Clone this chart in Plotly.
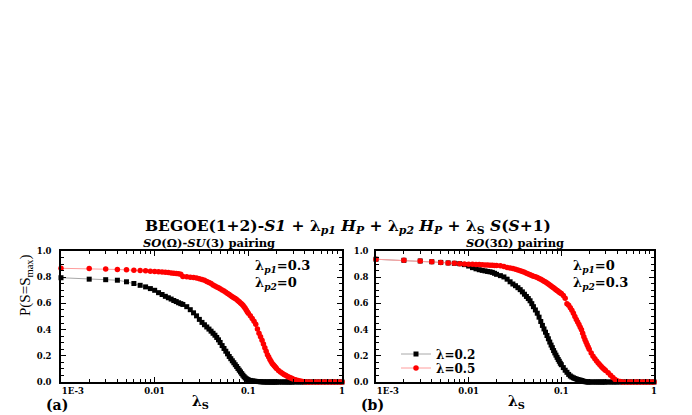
import plotly.graph_objects as go

# lambda_S values where the curves were read (shared by all four curves)
lam_s = [0.001, 0.002, 0.003, 0.004, 0.005, 0.006, 0.007, 0.008, 0.009,
         0.010, 0.011, 0.012, 0.013, 0.014, 0.015, 0.016, 0.017, 0.018, 0.019, 0.020,
         0.022, 0.024, 0.026, 0.028, 0.030, 0.032, 0.034, 0.036, 0.038, 0.040,
         0.042, 0.044, 0.046, 0.048, 0.050,
         0.0525, 0.055, 0.0575, 0.060, 0.0625, 0.065, 0.0675, 0.070, 0.0725, 0.075,
         0.0775, 0.080, 0.0825, 0.085, 0.0875, 0.090, 0.0925, 0.095, 0.0975, 0.100,
         0.105, 0.110, 0.115, 0.120, 0.125, 0.130, 0.135, 0.140, 0.145, 0.150,
         0.155, 0.160, 0.165, 0.170, 0.175, 0.180, 0.185, 0.190, 0.195, 0.200,
         0.21, 0.22, 0.23, 0.24, 0.25, 0.26, 0.27, 0.28, 0.29, 0.30,
         0.32, 0.34, 0.36, 0.38, 0.40, 0.43, 0.46, 0.50, 0.54, 0.58, 0.63, 0.68,
         0.74, 0.80, 0.86, 0.93, 1.0]

# (a) SO(Omega)-SU(3) pairing, lambda_p1=0.3, lambda_p2=0
a_lam02 = [0.796, 0.785, 0.781, 0.777, 0.765, 0.752, 0.738, 0.726, 0.713,
           0.700, 0.682, 0.668, 0.654, 0.643, 0.633, 0.622, 0.614, 0.605, 0.598, 0.592,
           0.575, 0.552, 0.528, 0.505, 0.478, 0.455, 0.437, 0.420, 0.404, 0.388,
           0.372, 0.357, 0.340, 0.322, 0.302,
           0.278, 0.256, 0.235, 0.215, 0.195, 0.178, 0.162, 0.147, 0.132, 0.118,
           0.103, 0.090, 0.077, 0.064, 0.052, 0.041, 0.032, 0.025, 0.020, 0.016,
           0.012, 0.009, 0.007, 0.005, 0.004, 0.003, 0.002, 0.001, 0.001, 0.0,
           0.0, 0.0, 0.0, 0.0, 0.0, 0.0, 0.0, 0.0, 0.0, 0.0,
           0.0, 0.0, 0.0, 0.0, 0.0, 0.0, 0.0, 0.0, 0.0, 0.0,
           0.0, 0.0, 0.0, 0.0, 0.0, 0.0, 0.0, 0.0, 0.0, 0.0, 0.0, 0.0,
           0.0, 0.0, 0.0, 0.0, 0.0]
a_lam05 = [0.868, 0.866, 0.862, 0.859, 0.856, 0.854, 0.852, 0.849, 0.846,
           0.843, 0.841, 0.839, 0.837, 0.835, 0.833, 0.831, 0.829, 0.826, 0.823, 0.806,
           0.803, 0.800, 0.797, 0.793, 0.789, 0.783, 0.776, 0.768, 0.760, 0.751,
           0.741, 0.733, 0.726, 0.719, 0.712,
           0.703, 0.695, 0.686, 0.676, 0.667, 0.659, 0.651, 0.644, 0.637, 0.630,
           0.621, 0.612, 0.604, 0.595, 0.586, 0.575, 0.563, 0.550, 0.537, 0.525,
           0.505, 0.485, 0.463, 0.440, 0.405, 0.372, 0.345, 0.318, 0.290, 0.262,
           0.235, 0.208, 0.190, 0.172, 0.156, 0.142, 0.131, 0.122, 0.112, 0.103,
           0.088, 0.076, 0.066, 0.058, 0.051, 0.044, 0.038, 0.033, 0.028, 0.023,
           0.017, 0.012, 0.007, 0.003, 0.001, 0.0, 0.0, 0.0, 0.0, 0.0, 0.0, 0.0,
           0.0, 0.0, 0.0, 0.0, 0.0]

# (b) SO(3 Omega) pairing, lambda_p1=0, lambda_p2=0.3
b_lam02 = [0.937, 0.929, 0.924, 0.918, 0.913, 0.909, 0.906, 0.903, 0.896,
           0.885, 0.873, 0.864, 0.857, 0.852, 0.848, 0.844, 0.841, 0.837, 0.830, 0.822,
           0.812, 0.802, 0.785, 0.765, 0.748, 0.735, 0.720, 0.705, 0.688, 0.670,
           0.653, 0.637, 0.620, 0.598, 0.575,
           0.550, 0.525, 0.495, 0.462, 0.432, 0.405, 0.380, 0.355, 0.330, 0.305,
           0.282, 0.262, 0.240, 0.222, 0.205, 0.188, 0.172, 0.158, 0.143, 0.132,
           0.110, 0.090, 0.074, 0.058, 0.046, 0.038, 0.032, 0.027, 0.023, 0.019,
           0.016, 0.014, 0.011, 0.008, 0.005, 0.003, 0.002, 0.001, 0.0, 0.0,
           0.0, 0.0, 0.0, 0.0, 0.0, 0.0, 0.0, 0.0, 0.0, 0.0,
           0.0, 0.0, 0.0, 0.0, 0.0, 0.0, 0.0, 0.0, 0.0, 0.0, 0.0, 0.0,
           0.0, 0.0, 0.0, 0.0, 0.0]
b_lam05 = [0.937, 0.929, 0.924, 0.918, 0.913, 0.909, 0.906, 0.903, 0.901,
           0.899, 0.898, 0.897, 0.896, 0.895, 0.894, 0.893, 0.892, 0.891, 0.890, 0.889,
           0.887, 0.881, 0.875, 0.870, 0.866, 0.861, 0.855, 0.849, 0.843, 0.837,
           0.831, 0.825, 0.819, 0.813, 0.808,
           0.803, 0.797, 0.791, 0.784, 0.777, 0.770, 0.763, 0.756, 0.748, 0.740,
           0.733, 0.726, 0.719, 0.712, 0.705, 0.698, 0.692, 0.686, 0.680, 0.675,
           0.660, 0.640, 0.598, 0.585, 0.567, 0.548, 0.525, 0.500, 0.478, 0.458,
           0.438, 0.418, 0.398, 0.372, 0.345, 0.322, 0.303, 0.285, 0.268, 0.250,
           0.222, 0.196, 0.178, 0.160, 0.145, 0.131, 0.118, 0.106, 0.097, 0.088,
           0.070, 0.052, 0.034, 0.020, 0.010, 0.003, 0.0, 0.0, 0.0, 0.0, 0.0, 0.0,
           0.0, 0.0, 0.0, 0.0, 0.0]

x_tickvals = [0.001, 0.01, 0.1, 1]
# leading figure spaces push "1E-3" to the right of its tick, as in the original
x_ticktext = ['\u2007\u2007\u2007\u20071E-3', '0.01', '0.1', '1']

BOLD = 'DejaVu Serif'
TIMES = 'Liberation Serif'
# the page body has an 8px margin, so the figure is drawn 8px in from the window corner
OFF = 8
W, H = 692 - OFF, 415 - OFF


def px(x, y):
    ''' window pixel position -> paper coords '''
    return (x - OFF) / W, 1 - (y - OFF) / H


fig = go.Figure()

styles = [
    ('λ=0.2', 'square', 'black', '#a8a8a8', 5, 'legend'),
    ('λ=0.5', 'circle', 'red', '#ff9c9c', 5.5, 'legend2'),
]
panels = [('x', 'y', [a_lam02, a_lam05], False),
          ('x2', 'y2', [b_lam02, b_lam05], True)]

for xa, ya, series, show in panels:
    for (name, sym, col, lcol, size, leg), vals in zip(styles, series):
        fig.add_trace(go.Scatter(
            x=lam_s, y=vals, xaxis=xa, yaxis=ya, name=name, legend=leg,
            mode='lines+markers', showlegend=show, cliponaxis=False,
            line=dict(color=lcol, width=1),
            marker=dict(symbol=sym, color=col, size=size, line=dict(width=0)),
        ))

axis_common = dict(
    showline=True, linecolor='black', linewidth=1.5, mirror='ticks',
    ticks='inside', ticklen=5, tickwidth=1, tickcolor='black',
    showgrid=False, zeroline=False, automargin=False,
    tickfont=dict(family=BOLD, size=8.5, color='black', weight='bold'),
)
xminor = dict(ticks='inside', ticklen=3, tickcolor='black', dtick='D1', showgrid=False)
yminor = dict(ticks='inside', ticklen=3, tickcolor='black', dtick=0.05, showgrid=False)

x0a, y_bot = px(61, 382)
x1a, y_top = px(342, 251)
x0b, _ = px(376, 0)
x1b, _ = px(654, 0)
yd = [y_bot, y_top]
fig.update_layout(
    xaxis=dict(axis_common, type='log', range=[-3, 0], domain=[x0a, x1a],
               tickvals=x_tickvals, ticktext=x_ticktext, minor=xminor, anchor='y'),
    yaxis=dict(axis_common, range=[0, 1], domain=yd, dtick=0.2, tickformat='.1f',
               minor=yminor, anchor='x', ticklabelstandoff=6),
    xaxis2=dict(axis_common, type='log', range=[-3, 0], domain=[x0b, x1b],
                tickvals=x_tickvals, ticktext=x_ticktext, minor=xminor, anchor='y2'),
    yaxis2=dict(axis_common, range=[0, 1], domain=yd, dtick=0.2, tickformat='.1f',
                minor=yminor, anchor='x2', ticklabelstandoff=4),
)

notes = [
    (348, 226, 'center', 'middle', 15.5,
     '<b>BEGOE(1+2)-<i>S1</i> + λ<sub><i>p1</i></sub> <i>H</i><sub><i>P</i></sub>'
     ' + λ<sub><i>p2</i></sub> <i>H</i><sub><i>P</i></sub> + λ<sub>S</sub>'
     ' <i>S</i>(<i>S</i>+1)</b>'),
    (209, 243, 'center', 'middle', 11.5, '<b><i>SO</i>(Ω)-<i>SU</i>(3) pairing</b>'),
    (515, 243, 'center', 'middle', 11.5, '<b><i>SO</i>(3Ω) pairing</b>'),
    (254, 266, 'left', 'middle', 13, '<b>λ<sub><i>p1</i></sub>=0.3</b>'),
    (254, 283, 'left', 'middle', 13, '<b>λ<sub><i>p2</i></sub>=0</b>'),
    (572, 266, 'left', 'middle', 13, '<b>λ<sub><i>p1</i></sub>=0</b>'),
    (572, 283, 'left', 'middle', 13, '<b>λ<sub><i>p2</i></sub>=0.3</b>'),
    (200, 402, 'center', 'middle', 14, '<b>λ<sub>S</sub></b>'),
    (517, 402, 'center', 'middle', 14, '<b>λ<sub>S</sub></b>'),
    (57, 405, 'center', 'middle', 14, '<b>(a)</b>'),
    (373, 405, 'center', 'middle', 14, '<b>(b)</b>'),
]
for x, y, xa, ya, size, text in notes:
    ax, ay = px(x, y)
    fig.add_annotation(x=ax, y=ay, xref='paper', yref='paper', text=text,
                       showarrow=False, xanchor=xa, yanchor=ya, borderpad=0,
                       font=dict(family=BOLD, size=size, color='black'))

ax, ay = px(15, 318)
fig.add_annotation(x=ax, y=ay, xref='paper', yref='paper', textangle=-90,
                   text='P(S=S<sub>max</sub>)', showarrow=False,
                   font=dict(family=TIMES, size=15, color='black'))

leg_font = dict(family=BOLD, size=12, color='black', weight='bold')
l1x, l1y = px(396, 354)
l2x, l2y = px(396, 368)
fig.update_layout(
    width=W, height=H,
    margin=dict(l=0, r=0, t=0, b=0),
    paper_bgcolor='white', plot_bgcolor='white',
    legend=dict(x=l1x, y=l1y, xanchor='left', yanchor='middle', itemwidth=30,
                bgcolor='rgba(0,0,0,0)', font=leg_font),
    legend2=dict(x=l2x, y=l2y, xanchor='left', yanchor='middle', itemwidth=30,
                 bgcolor='rgba(0,0,0,0)', font=leg_font),
)

fig.write_html("out.html")
